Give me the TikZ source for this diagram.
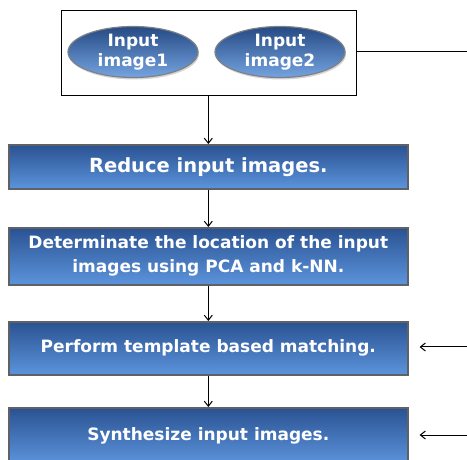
\documentclass[tikz,border=0pt]{standalone}
\usepackage{fontspec}
\setmainfont{DejaVu Sans}
\usetikzlibrary{shadows,arrows.meta,shapes.geometric}
\definecolor{topblue}{HTML}{2A5292}
\definecolor{botblue}{HTML}{5C94DC}
\definecolor{edgegray}{HTML}{5E6166}
\tikzset{
  stepbox/.style={draw=edgegray, line width=1.6pt, top color=topblue, bottom color=botblue,
    minimum width=399pt, anchor=north west, text=white, font=\bfseries\fontsize{17}{24}\selectfont,
    align=center, inner sep=0pt, drop shadow={shadow xshift=1.5pt, shadow yshift=-1.5pt, opacity=0.35, fill=gray}},
  inimg/.style={ellipse, draw=edgegray!80, line width=1.2pt, top color=topblue!90!black, bottom color=botblue!85!white,
    minimum width=130pt, minimum height=50pt, inner sep=0pt, text=white,
    font=\bfseries\fontsize{17}{20}\selectfont, align=center,
    drop shadow={shadow xshift=1pt, shadow yshift=-2pt, opacity=0.35, fill=gray}},
  conn/.style={draw=black, line width=1pt},
  arr/.style={conn, -{Straight Barb[length=5pt,width=8pt]}}
}
\begin{document}
\begin{tikzpicture}[x=1pt,y=-1pt]
\useasboundingbox (0,0) rectangle (467,460);
\node[draw=black, line width=1.1pt, minimum width=295pt, minimum height=85pt, anchor=north west, inner sep=0pt] (group) at (61,10) {};
\node[inimg] (i1) at (133,52) {Input\\image1};
\node[inimg] (i2) at (280,52) {Input\\image2};
\node[stepbox, minimum height=44pt, font=\bfseries\fontsize{19.5}{24}\selectfont] (s1) at (8,144) {Reduce input images.};
\node[stepbox, minimum height=57pt] (s2) at (8,227) {Determinate the location of the input\\images using PCA and k-NN.};
\node[stepbox, minimum height=53pt] (s3) at (8,321) {Perform template based matching.};
\node[stepbox, minimum height=56pt] (s4) at (8,407) {Synthesize input images.};
\coordinate (r0) at (467,52);
\coordinate (r3) at (467,347);
\coordinate (r4) at (467,435);
\draw[conn] (group.east |- r0) -- (r0);
\draw[arr] (group.south -| s1.north) -- (s1.north);
\draw[arr] (s1) -- (s2);
\draw[arr] (s2) -- (s3);
\draw[arr] (s3) -- (s4);
\draw[arr] (r3) -- ([xshift=11pt]s3.east |- r3);
\draw[arr] (r4) -- ([xshift=11pt]s4.east |- r4);
\end{tikzpicture}
\end{document}
